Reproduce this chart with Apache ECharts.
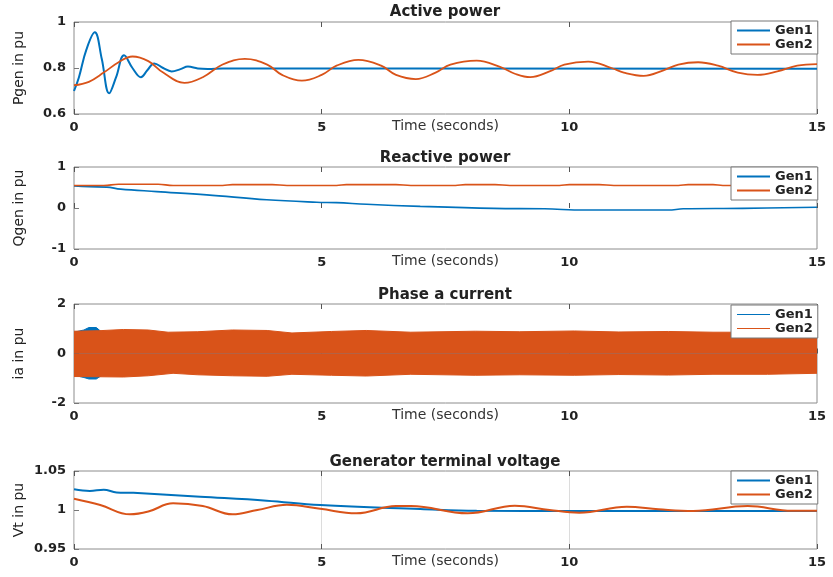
<!DOCTYPE html>
<html lang="en">
<head>
    <meta charset="UTF-8">
    <title>Generator response</title>
    <script type="text/javascript" src="https://cdn.jsdelivr.net/npm/echarts@6/dist/echarts.min.js"></script>
</head>
<body style="margin:0;background:#fff;">
<div id="myChart" style="width:833px;height:577px;"></div>
<script type="text/javascript">
    // time axis (seconds)
    var timeTicks = [0, 5, 10, 15];

    // Active power [t, pu]
    var pGen1 = [[0,0.70],[0.1,0.76],[0.25,0.88],[0.42,0.955],[0.56,0.84],[0.71,0.69],[0.85,0.76],[1.01,0.855],
        [1.18,0.80],[1.35,0.76],[1.48,0.79],[1.62,0.82],[1.8,0.80],[1.97,0.785],[2.15,0.795],[2.3,0.806],
        [2.5,0.798],[2.7,0.796],[3.0,0.798],[15,0.797]];
    var pGen2 = [[0,0.725],[0.3,0.74],[0.6,0.78],[0.9,0.825],[1.18,0.85],[1.5,0.83],[1.8,0.78],[2.23,0.735],
        [2.6,0.76],[3.0,0.815],[3.45,0.84],[3.9,0.815],[4.2,0.77],[4.6,0.745],[5.0,0.77],[5.3,0.81],[5.74,0.835],
        [6.2,0.81],[6.5,0.77],[6.9,0.752],[7.3,0.78],[7.6,0.815],[8.13,0.832],[8.6,0.805],[8.9,0.775],[9.21,0.76],
        [9.6,0.785],[9.9,0.815],[10.38,0.828],[10.85,0.8],[11.1,0.78],[11.5,0.766],[11.9,0.79],[12.2,0.815],
        [12.6,0.825],[13.0,0.81],[13.4,0.78],[13.8,0.77],[14.2,0.785],[14.6,0.81],[15,0.817]];
    var pTicks = [0.6, 0.8, 1];

    // Reactive power [t, pu]
    var qGen1 = [[0,0.54],[0.3,0.52],[0.66,0.51],[0.94,0.46],[1.67,0.40],[2.68,0.32],[3.89,0.20],[4.9,0.14],
        [5.3,0.13],[5.91,0.09],[6.99,0.04],[8.47,-0.01],[9.5,-0.02],[10.3,-0.05],[12.0,-0.05],[12.3,-0.02],
        [13.5,-0.01],[15,0.02]];
    var qGen2 = [[0,0.55],[0.6,0.55],[0.9,0.58],[1.7,0.58],[2.0,0.55],[3.0,0.55],[3.2,0.57],[4.0,0.57],[4.3,0.55],
        [5.3,0.55],[5.5,0.57],[6.5,0.57],[6.8,0.55],[7.7,0.55],[7.9,0.57],[8.5,0.57],[8.8,0.55],[9.8,0.55],
        [10.0,0.57],[10.6,0.57],[10.9,0.55],[12.2,0.55],[12.4,0.57],[12.9,0.57],[13.1,0.55],[15,0.55]];
    var qTicks = [-1, 0, 1];

    // Phase a current, envelope of the fast oscillation [t, pu]
    var iGen1Upper = [[0,0.86],[0.2,0.95],[0.3,1.05],[0.45,1.05],[0.55,0.88],[1.0,0.76],[15,0.74]];
    var iGen1Lower = [[0,-0.88],[0.2,-0.97],[0.3,-1.03],[0.45,-1.03],[0.55,-0.9],[1.0,-0.76],[15,-0.74]];
    var iGen2Upper = [[0,0.9],[0.5,0.92],[1.0,0.97],[1.5,0.95],[1.9,0.86],[2.5,0.88],[3.2,0.95],[3.9,0.93],
        [4.4,0.83],[5.2,0.89],[5.9,0.93],[6.8,0.86],[8.1,0.9],[9.0,0.88],[10.1,0.91],[11.0,0.87],[12.0,0.89],
        [12.9,0.86],[14.0,0.86],[15,0.8]];
    var iGen2Lower = [[0,-0.93],[0.5,-0.94],[1.0,-0.95],[1.5,-0.9],[2.0,-0.8],[2.5,-0.86],[3.2,-0.9],[3.9,-0.92],
        [4.4,-0.84],[5.2,-0.88],[5.9,-0.91],[6.8,-0.84],[8.1,-0.88],[9.0,-0.86],[10.1,-0.88],[11.0,-0.85],
        [12.0,-0.87],[12.9,-0.84],[14.0,-0.84],[15,-0.8]];
    var iTicks = [-2, 0, 2];

    // Generator terminal voltage [t, pu]
    var vGen1 = [[0,1.0265],[0.32,1.0245],[0.6,1.026],[0.86,1.0225],[1.2,1.022],[2.55,1.017],[3.89,1.012],
        [4.97,1.0064],[6.99,1.0013],[8.13,0.9990],[10.1,0.9987],[15,0.9987]];
    var vGen2 = [[0,1.0145],[0.53,1.0064],[1.13,0.9944],[1.5,0.998],[2.0,1.0085],[2.6,1.005],[3.2,0.9944],
        [3.7,1.0],[4.3,1.0066],[4.97,1.0015],[5.7,0.9957],[6.5,1.005],[6.8,1.005],[7.95,0.9957],[8.9,1.0055],
        [9.6,1.0],[10.2,0.9966],[11.16,1.0043],[11.8,1.001],[12.5,0.9987],[13.6,1.005],[14.5,0.999],[15,0.999]];
    var vTicks = [0.95, 1, 1.05];

    var BLUE = '#0072BD', ORANGE = '#D95319';
    var FONT = '"DejaVu Sans", "Liberation Sans", Arial, sans-serif';

    var panels = [
        {title: 'Active power', yName: 'Pgen in pu', ticks: pTicks, top: 22, height: 92, titleY: 12, legendTop: 21},
        {title: 'Reactive power', yName: 'Qgen in pu', ticks: qTicks, top: 167, height: 82, titleY: 158, legendTop: 167},
        {title: 'Phase a current', yName: 'ia in pu', ticks: iTicks, top: 304, height: 99, titleY: 295.5, legendTop: 305},
        {title: 'Generator terminal voltage', yName: 'Vt in pu', ticks: vTicks, top: 471, height: 78, titleY: 462, legendTop: 471}
    ];

    var myChart = echarts.init(document.getElementById('myChart'));

    var grids = [], xAxes = [], yAxes = [], legends = [], graphics = [];
    panels.forEach(function (p, i) {
        grids.push({left: 74, width: 743, top: p.top, height: p.height, show: true,
            borderColor: '#8c8c8c', borderWidth: 1, backgroundColor: '#fff'});
        var xStep = timeTicks[1] - timeTicks[0];
        xAxes.push({
            gridIndex: i, type: 'value', min: timeTicks[0], max: timeTicks[timeTicks.length - 1], interval: xStep,
            name: 'Time (seconds)', nameLocation: 'middle', nameGap: 5, nameMoveOverlap: false,
            nameTextStyle: {fontFamily: FONT, fontSize: 14, color: '#333'},
            axisLine: {show: false},
            axisTick: {inside: true, length: 5, lineStyle: {color: '#555'}},
            axisLabel: {margin: 7, fontFamily: FONT, fontSize: 13, fontWeight: 'bold', color: '#222'},
            splitLine: {show: i === 3, lineStyle: {color: '#dcdcdc'}}
        });
        // top edge ticks
        xAxes.push({
            gridIndex: i, type: 'value', position: 'top', min: timeTicks[0], max: timeTicks[timeTicks.length - 1], interval: xStep,
            axisLine: {show: false}, axisLabel: {show: false}, splitLine: {show: false},
            axisTick: {inside: true, length: 5, lineStyle: {color: '#555'}}
        });
        var yStep = +(p.ticks[1] - p.ticks[0]).toFixed(4);
        yAxes.push({
            gridIndex: i, type: 'value', min: p.ticks[0], max: p.ticks[p.ticks.length - 1], interval: yStep,
            name: p.yName, nameLocation: 'middle', nameGap: 48, nameRotate: 90, nameMoveOverlap: false,
            nameTextStyle: {fontFamily: FONT, fontSize: 14, color: '#222'},
            axisLine: {show: false},
            axisTick: {inside: true, length: 5, lineStyle: {color: '#777'}},
            axisLabel: {margin: 8, fontFamily: FONT, fontSize: 13, fontWeight: 'bold', color: '#222',
                formatter: function (v) { return String(+v.toFixed(3)); }},
            splitLine: {show: false}
        });
        legends.push({
            data: ['Gen1', 'Gen2'], orient: 'vertical', left: 731, top: p.legendTop,
            backgroundColor: '#fff', borderColor: '#777', borderWidth: 1, borderRadius: 0,
            padding: [3, 5, 3, 6], itemGap: 1, itemWidth: 33, itemHeight: i === 2 ? 1 : 2, icon: 'rect',
            textStyle: {fontFamily: FONT, fontSize: 13, fontWeight: 'bold', color: '#222'},
            selectedMode: false
        });
        graphics.push({
            type: 'text', x: 445, y: p.titleY,
            style: {text: p.title, align: 'center', verticalAlign: 'middle',
                font: 'bold 15px ' + FONT, fill: '#222'}
        });
    });

    function line(name, data, idx, color, width) {
        return {
            name: name, type: 'line', xAxisIndex: idx * 2, yAxisIndex: idx, data: data,
            smooth: 0.4, symbol: 'none', color: color, lineStyle: {color: color, width: width},
            animation: false
        };
    }
    // phase current drawn as its envelope band, Gen2 on top of Gen1
    function band(name, data, color, z) {
        return {
            name: name, type: 'line', xAxisIndex: 4, yAxisIndex: 2, data: data, z: z,
            symbol: 'none', color: color, lineStyle: {color: color, width: 1},
            areaStyle: {color: color, opacity: 1, origin: 0}, animation: false
        };
    }

    var series = [
        line('Gen1', pGen1, 0, BLUE, 2),
        line('Gen2', pGen2, 0, ORANGE, 1.8),
        line('Gen1', qGen1, 1, BLUE, 1.6),
        line('Gen2', qGen2, 1, ORANGE, 1.6),
        band('Gen1', iGen1Upper, BLUE, 2),
        band('Gen1', iGen1Lower, BLUE, 2),
        band('Gen2', iGen2Upper, ORANGE, 3),
        band('Gen2', iGen2Lower, ORANGE, 3),
        line('Gen1', vGen1, 3, BLUE, 2),
        line('Gen2', vGen2, 3, ORANGE, 2)
    ];

    var option = {
        animation: false,
        backgroundColor: '#fff',
        grid: grids,
        xAxis: xAxes,
        yAxis: yAxes,
        legend: legends,
        graphic: graphics,
        series: series
    };
    myChart.setOption(option);
</script>
</body>
</html>
